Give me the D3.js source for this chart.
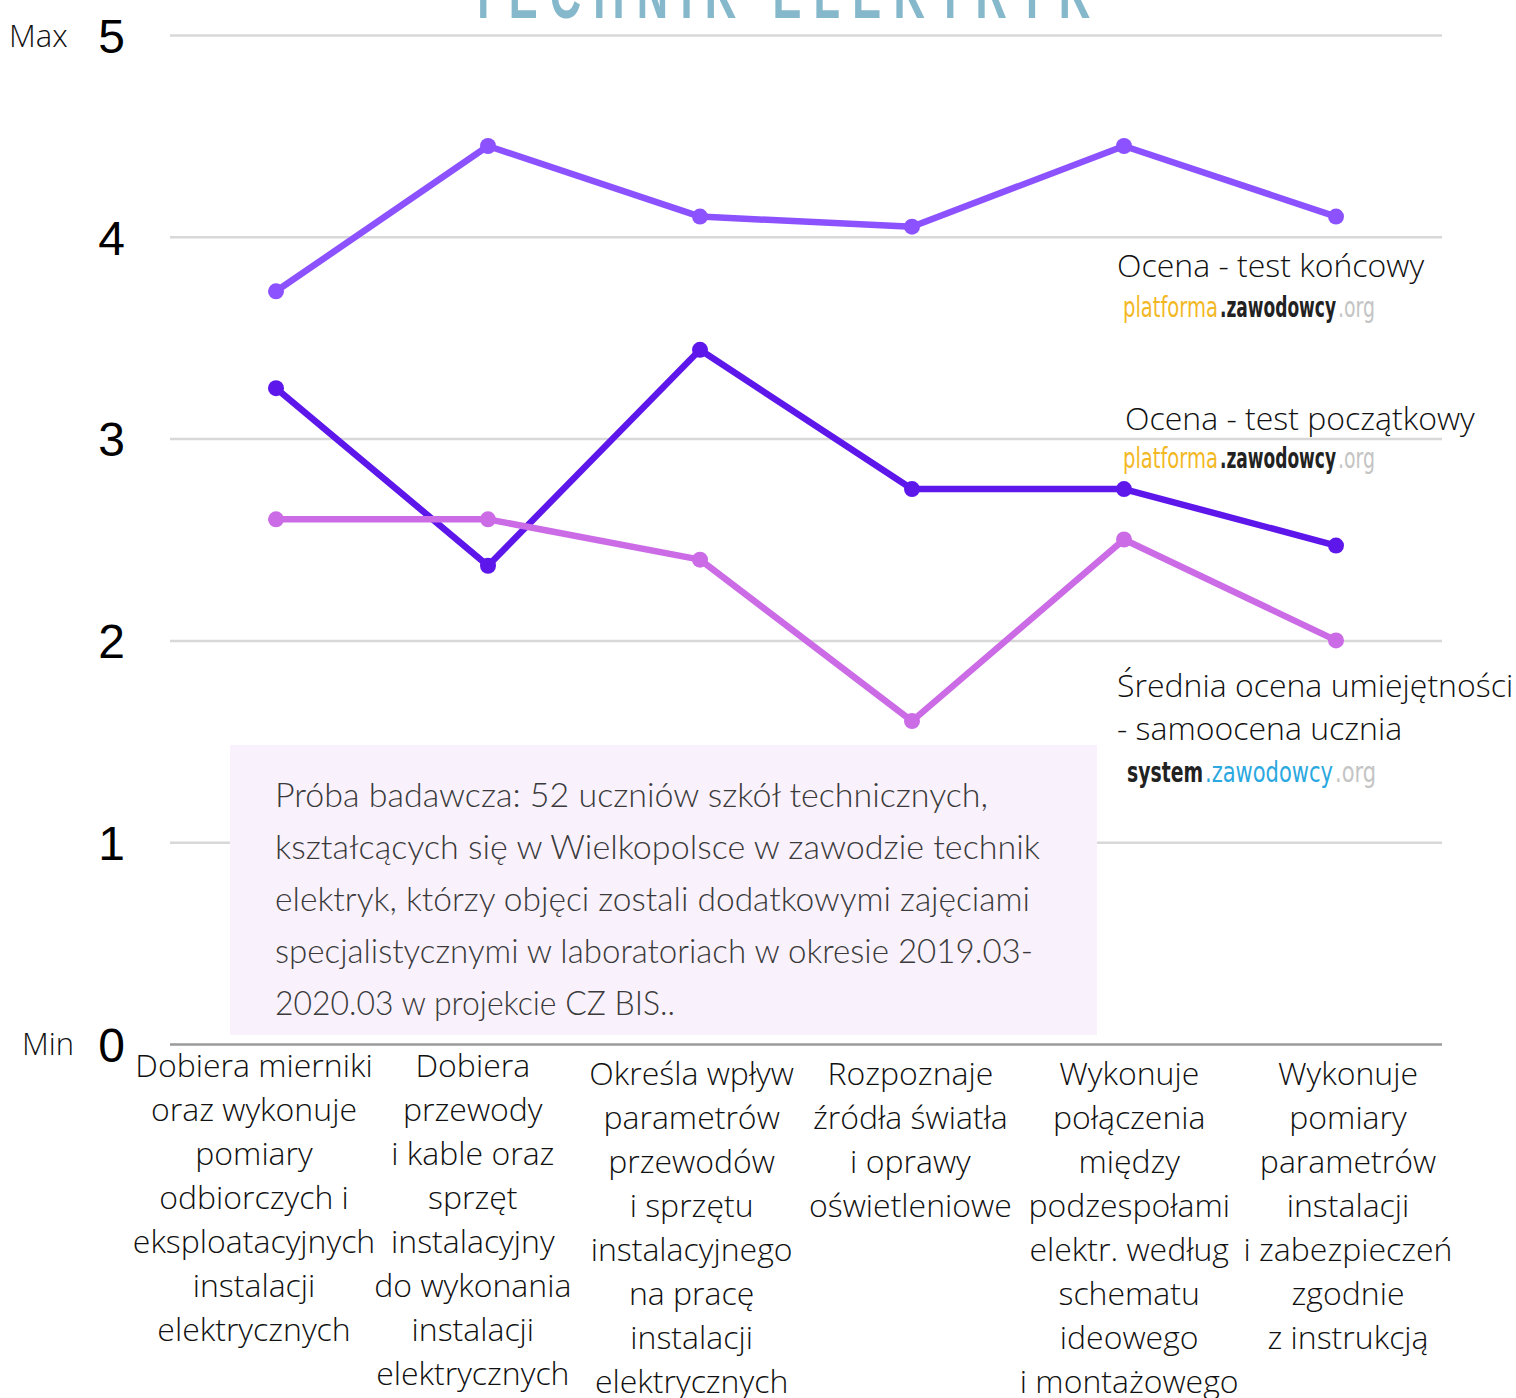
<!DOCTYPE html>
<html>
<head>
<meta charset="utf-8">
<script src="https://cdn.jsdelivr.net/npm/d3@7"></script>
<style>
  body { margin: 0; background: #fff; }
  svg { display: block; }
</style>
</head>
<body>
<script>
// dane
var categories = [
  ["Dobiera mierniki", "oraz wykonuje", "pomiary", "odbiorczych i", "eksploatacyjnych", "instalacji", "elektrycznych"],
  ["Dobiera", "przewody", "i kable oraz", "sprzęt", "instalacyjny", "do wykonania", "instalacji", "elektrycznych"],
  ["Określa wpływ", "parametrów", "przewodów", "i sprzętu", "instalacyjnego", "na pracę", "instalacji", "elektrycznych"],
  ["Rozpoznaje", "źródła światła", "i oprawy", "oświetleniowe"],
  ["Wykonuje", "połączenia", "między", "podzespołami", "elektr. według", "schematu", "ideowego", "i montażowego"],
  ["Wykonuje", "pomiary", "parametrów", "instalacji", "i zabezpieczeń", "zgodnie", "z instrukcją"]
];
var koncowy    = [3.73, 4.45, 4.10, 4.05, 4.45, 4.10];
var poczatkowy = [3.25, 2.37, 3.44, 2.75, 2.75, 2.47];
var samoocena  = [2.60, 2.60, 2.40, 1.60, 2.50, 2.00];
var yTicks = [0, 1, 2, 3, 4, 5];
var noteLines = [
  "Próba badawcza: 52 uczniów szkół technicznych,",
  "kształcących się w Wielkopolsce w zawodzie technik",
  "elektryk, którzy objęci zostali dodatkowymi zajęciami",
  "specjalistycznymi w laboratoriach w okresie 2019.03-",
  "2020.03 w projekcie CZ BIS.."
];

var W = 1516, H = 1398;
var mLeft = 170, mRight = 1442, mTop = 35, mBottom = 1044;

var svg = d3.select("body").append("svg")
  .attr("width", W)
  .attr("height", H);

var keys = categories.map(function(d){ return d.join(" "); });
var xScale = d3.scalePoint().domain(keys).range([mLeft, mRight]).padding(0.5);
var labelScale = d3.scalePoint().domain(keys).range([254, 1348]);
var yScale = d3.scaleLinear().domain([0, 5]).range([mBottom, mTop]);

// tytul (uciety u gory)
svg.append("text")
  .attr("transform", "translate(470,18) scale(0.62,1)")
  .attr("x", 0)
  .attr("y", 0)
  .attr("textLength", 1000)
  .attr("lengthAdjust", "spacing")
  .attr("font-family", "'Liberation Sans Narrow', 'Liberation Sans', sans-serif")
  .attr("font-weight", "bold")
  .attr("font-size", 70)
  .attr("fill", "#86b8cc")
  .text("TECHNIK ELEKTRYK");

// siatka + os Y
var yAxis = d3.axisLeft(yScale)
  .tickValues(yTicks)
  .tickSize(-(mRight - mLeft))
  .tickPadding(45)
  .tickFormat(d3.format("d"));

var yAxisGroup = svg.append("g")
  .attr("transform", "translate(" + mLeft + ",0)")
  .call(yAxis);
yAxisGroup.select(".domain").remove();
yAxisGroup.selectAll(".tick line")
  .attr("stroke", function(d){ return d === 0 ? "#9a9a9a" : "#d8d8d8"; })
  .attr("stroke-width", 2.5);
yAxisGroup.selectAll(".tick text")
  .attr("font-family", "'Liberation Sans', Arial, sans-serif")
  .attr("font-size", 48)
  .attr("fill", "#000")
  .attr("dy", "0.36em");

svg.append("text")
  .attr("x", 9).attr("y", 47)
  .attr("font-family", "'Open Sans', sans-serif")
  .attr("font-weight", 300)
  .attr("font-size", 31)
  .attr("fill", "#111")
  .text("Max");
svg.append("text")
  .attr("x", 22).attr("y", 1055)
  .attr("font-family", "'Open Sans', sans-serif")
  .attr("font-weight", 300)
  .attr("font-size", 31)
  .attr("fill", "#111")
  .text("Min");

// ramka z opisem
svg.append("rect")
  .attr("x", 230).attr("y", 745)
  .attr("width", 867).attr("height", 290)
  .attr("fill", "#f9f1fc");

var noteWidths = [713, 765, 755, 758, 400];
svg.append("g").selectAll("text")
  .data(noteLines)
  .enter()
  .append("text")
  .attr("x", 275)
  .attr("y", function(d, i){ return 807 + i * 52; })
  .attr("textLength", function(d, i){ return noteWidths[i]; })
  .attr("lengthAdjust", "spacingAndGlyphs")
  .attr("font-family", "Lato, sans-serif")
  .attr("font-weight", 300)
  .attr("font-size", 34)
  .attr("fill", "#3a3a3a")
  .text(function(d){ return d; });

// serie
var series = [
  {name: "koncowy", values: koncowy, color: "#8c52ff"},
  {name: "poczatkowy", values: poczatkowy, color: "#5e17eb"},
  {name: "samoocena", values: samoocena, color: "#cb6ce6"}
];

var line = d3.line()
  .x(function(d, i){ return xScale(keys[i]); })
  .y(function(d){ return yScale(d); });

series.forEach(function(s) {
  svg.append("path")
    .attr("d", line(s.values))
    .attr("fill", "none")
    .attr("stroke", s.color)
    .attr("stroke-width", 6.5)
    .attr("stroke-linejoin", "round");
  svg.append("g").selectAll("circle")
    .data(s.values)
    .enter()
    .append("circle")
    .attr("cx", function(d, i){ return xScale(keys[i]); })
    .attr("cy", function(d){ return yScale(d); })
    .attr("r", 8)
    .attr("fill", s.color);
});

// etykiety osi X
var xl = svg.append("g").selectAll("text")
  .data(categories)
  .enter()
  .append("text")
  .attr("text-anchor", "middle")
  .attr("font-family", "'Open Sans', sans-serif")
  .attr("font-weight", 300)
  .attr("font-size", 32)
  .attr("fill", "#111")
  .attr("transform", function(d, i){
    return "translate(" + labelScale(keys[i]) + "," + (i < 2 ? 1077 : 1085) + ")";
  });
xl.selectAll("tspan")
  .data(function(d){ return d; })
  .enter()
  .append("tspan")
  .attr("x", 0)
  .attr("y", function(d, i){ return i * 44; })
  .text(function(d){ return d; });

// legenda
function legendText(x, y, txt) {
  svg.append("text")
    .attr("x", x).attr("y", y)
    .attr("font-family", "'Open Sans', sans-serif")
    .attr("font-weight", 300)
    .attr("font-size", 32)
    .attr("fill", "#111")
    .text(txt);
}
// logo: [tekst, kolor, szerokosc, pogrubienie]
function logo(x, y, parts) {
  var cx = x;
  parts.forEach(function(p) {
    svg.append("text")
      .attr("x", cx).attr("y", y)
      .attr("textLength", p[2] - 2)
      .attr("lengthAdjust", "spacingAndGlyphs")
      .attr("font-family", "'Liberation Sans Narrow', 'DejaVu Sans Condensed', sans-serif")
      .attr("font-weight", p[3] ? "bold" : "normal")
      .attr("font-size", 29)
      .attr("fill", p[1])
      .text(p[0]);
    cx += p[2];
  });
}

legendText(1117, 277, "Ocena - test końcowy");
logo(1123, 317, [["platforma", "#f2b824", 97, false], [".zawodowcy", "#222", 118, true], [".org", "#c4c4c4", 39, false]]);
legendText(1125, 430, "Ocena - test początkowy");
logo(1123, 468, [["platforma", "#f2b824", 97, false], [".zawodowcy", "#222", 118, true], [".org", "#c4c4c4", 39, false]]);
legendText(1117, 697, "Średnia ocena umiejętności");
legendText(1117, 740, "- samoocena ucznia");
logo(1127, 782, [["system", "#222", 78, true], [".zawodowcy", "#2aa8df", 130, false], [".org", "#c4c4c4", 43, false]]);
</script>
</body>
</html>
